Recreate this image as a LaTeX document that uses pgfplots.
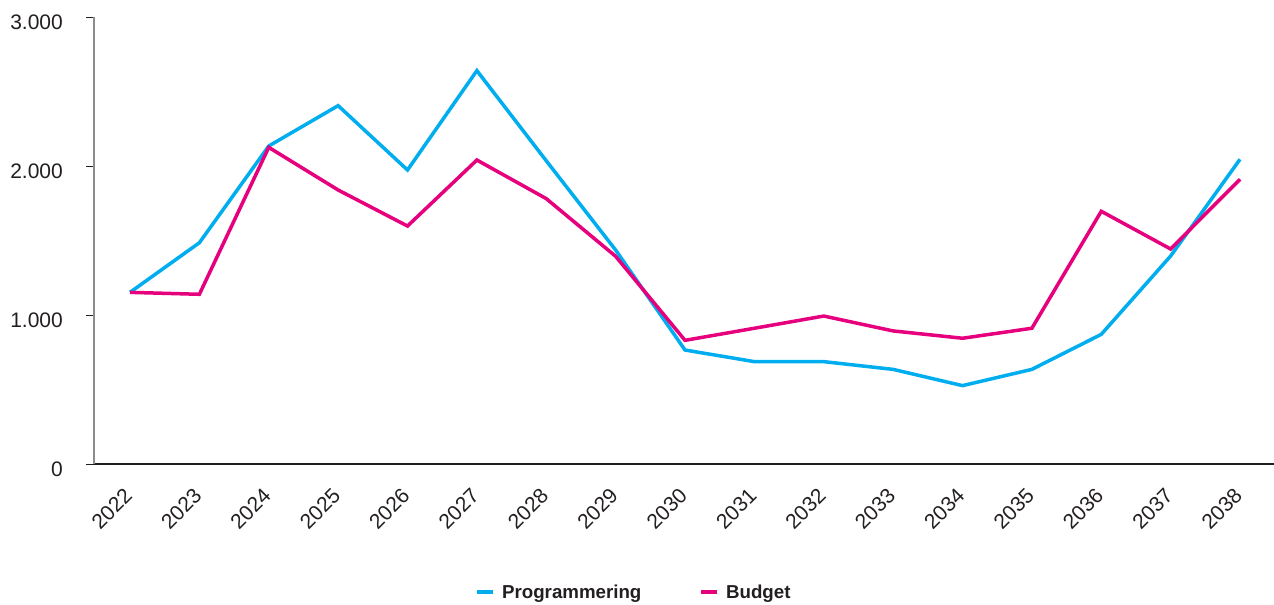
\documentclass[border=0pt]{standalone}
\usepackage{pgfplots}
\pgfplotsset{compat=1.18}
\usepackage{fontspec}
\setmainfont{Liberation Sans}
\definecolor{progblue}{RGB}{0,174,239}
\definecolor{budgetred}{RGB}{230,0,126}
\definecolor{txt}{RGB}{35,31,32}
\definecolor{axgray}{RGB}{140,140,140}
\begin{document}
\begin{tikzpicture}
\useasboundingbox (-94bp,-141bp) rectangle (1180bp,464bp);
\begin{axis}[
  scale only axis, width=1180bp, height=447bp,
  xmin=2021.481, xmax=2038.49, ymin=0, ymax=3000,
  axis lines=left, axis line style={-},
  x axis line style={draw=txt, line width=1.5bp},
  y axis line style={draw=axgray, line width=1.6bp},
  xtick={2022,2023,2024,2025,2026,2027,2028,2029,2030,2031,2032,2033,2034,2035,2036,2037,2038},
  xticklabels={2022,2023,2024,2025,2026,2027,2028,2029,2030,2031,2032,2033,2034,2035,2036,2037,2038},
  ytick={0,1000,2000,3000}, yticklabels={0,1.000,2.000,3.000},
  tick align=outside, major tick length=8bp,
  x tick style={draw=none},
  y tick style={draw=txt, line width=1bp},
  ticklabel style={font=\fontsize{21bp}{25bp}\selectfont, text=txt},
  xticklabel style={xshift=-1.5bp, yshift=-20bp, rotate=45, anchor=east, inner sep=0pt},
  yticklabel style={anchor=east, inner sep=0pt, xshift=-23bp, yshift=-5bp},
  legend columns=2,
  legend style={at={(0.4576,-0.2864)}, anchor=center, draw=none, fill=none,
    font=\bfseries\fontsize{18.7bp}{22bp}\selectfont, text=txt,
    /tikz/every even column/.append style={column sep=56bp}},
  legend image code/.code={\draw[line width=4bp] (0bp,0bp) -- (16bp,0bp); \path (21bp,0bp);},
  every axis plot/.append style={line width=3.5bp, no marks},
]
\addplot[progblue] coordinates {
(2022,1152) (2023,1485) (2024,2134) (2025,2405) (2026,1973) (2027,2640) (2028,2035) (2029,1436) (2030,765) (2031,687) (2032,687) (2033,635) (2034,526) (2035,635) (2036,870) (2037,1396) (2038,2045)
};
\addlegendentry{Programmering}
\addplot[budgetred] coordinates {
(2022,1152) (2023,1139) (2024,2125) (2025,1839) (2026,1597) (2027,2040) (2028,1781) (2029,1394) (2030,830) (2031,911) (2032,993) (2033,893) (2034,844) (2035,911) (2036,1696) (2037,1443) (2038,1911)
};
\addlegendentry{Budget}
\end{axis}
\end{tikzpicture}
\end{document}
